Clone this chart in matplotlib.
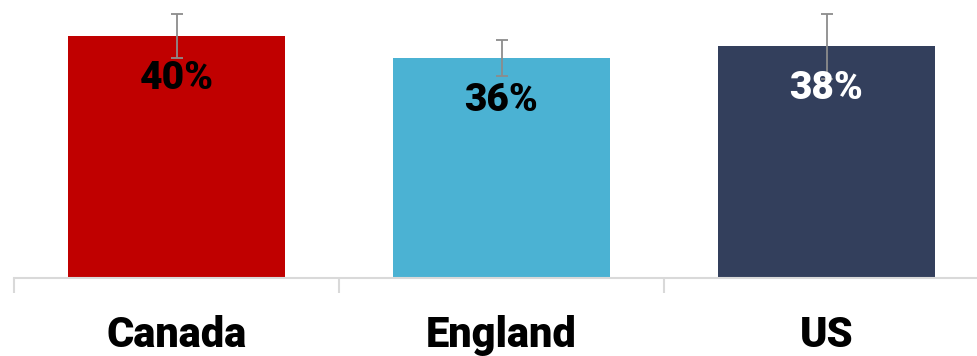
import matplotlib
matplotlib.use("Agg")
import matplotlib.pyplot as plt
from matplotlib.transforms import offset_copy

categories = ["Canada", "England", "US"]
values = [40.0, 36.4, 38.3]
errors = [3.6, 3.0, 5.4]
colors = ["#C00000", "#4BB2D3", "#333F5C"]
label_colors = ["#000000", "#000000", "#FFFFFF"]

plt.rcParams['font.family'] = ['Roboto', 'DejaVu Sans']

W, H = 977, 356
fig = plt.figure(figsize=(W / 100, H / 100), dpi=100)
ax = fig.add_axes([14 / W, 78 / H, 975 / W, 278 / H])

x = list(range(len(categories)))
ax.bar(x, values, width=0.667, color=colors, zorder=2)
ax.errorbar(x, values, yerr=errors, fmt='none', ecolor='#8C8C8C',
            elinewidth=1.3, capsize=4.3, capthick=1.3, zorder=3)

for xi, v, c in zip(x, values, label_colors):
    ax.annotate(f"{v:.0f}%", (xi, v), xytext=(0, -42.5 * 0.72), textcoords='offset points',
                ha='center', va='center', fontsize=28, fontweight='black', color=c, zorder=4)

ax.set_xlim(-0.5, 2.5)
ax.set_ylim(0, 278 / 6.05)
ax.set_yticks([])
for s in ['top', 'right', 'left']:
    ax.spines[s].set_visible(False)
ax.spines['bottom'].set_color('#D9D9D9')
ax.spines['bottom'].set_linewidth(1.5)
ax.set_xticks(x)
ax.set_xticklabels([])
ax.tick_params(axis='x', which='major', length=0)
ax.set_xticks([-0.5, 0.5, 1.5, 2.5], minor=True)
ax.tick_params(axis='x', which='minor', length=11, width=1.5, color='#D9D9D9', direction='out')
ax.patch.set_visible(False)

lab_tr = offset_copy(ax.get_xaxis_transform(), fig=fig, x=0, y=-69 * 0.72, units='points')
for xi, cat in zip(x, categories):
    ax.text(xi, 0, cat, transform=lab_tr, ha='center', va='baseline',
            fontsize=30, fontweight='black', color='#000000', clip_on=False)

fig.savefig("out.png", dpi=100)
